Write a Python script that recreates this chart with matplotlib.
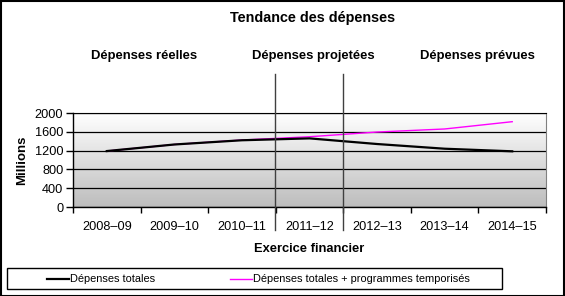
import numpy as np
import matplotlib.pyplot as plt
from matplotlib.lines import Line2D
from matplotlib.patches import Rectangle

plt.rcParams['font.family'] = ['Liberation Sans', 'DejaVu Sans']

years = ['2008–09', '2009–10', '2010–11', '2011–12', '2012–13', '2013–14', '2014–15']
totales = [1190, 1330, 1420, 1460, 1340, 1240, 1185]
temporises = [1190, 1330, 1425, 1495, 1595, 1660, 1815]
sections = ['Dépenses réelles', 'Dépenses projetées', 'Dépenses prévues']
yticks = [0, 400, 800, 1200, 1600, 2000]

W, H = 565, 296
fig = plt.figure(figsize=(W / 100, H / 100), dpi=100)
fig.patch.set_facecolor('white')
fig.patches.append(Rectangle((0.5 / W, 0.5 / H), 1 - 1.5 / W, 1 - 1.5 / H,
                             transform=fig.transFigure, fill=False,
                             edgecolor='black', linewidth=1.5))

# plot area in pixels: x 73..546, y 113..207 (from top)
ax = fig.add_axes([73 / W, 1 - 207 / H, (546 - 73) / W, (207 - 113) / H])
n = len(years)
ax.set_xlim(0, n)
ax.set_ylim(0, 2000)

# gradient background
grad = np.linspace(0, 1, 256).reshape(-1, 1)
ax.imshow(grad, extent=[0, n, 0, 2000], aspect='auto', origin='lower',
          cmap=plt.matplotlib.colors.LinearSegmentedColormap.from_list(
              'g', ['#bdbdbd', '#ffffff']), zorder=0)

for y in yticks:
    ax.axhline(y, color='black', linewidth=0.9, zorder=1)

x = np.arange(n) + 0.5
ax.plot(x, totales, color='black', linewidth=1.6, zorder=3)
ax.plot(x, temporises, color='#ff00ff', linewidth=1.0, zorder=2)

ax.set_xticks(np.arange(n + 1))
ax.set_xticklabels([])
ax.set_xticks(x, minor=True)
ax.set_xticklabels(years, minor=True)
ax.tick_params(axis='x', which='minor', length=0, pad=10, labelsize=9.2)
ax.tick_params(axis='x', which='major', direction='out', length=4, width=1)
ax.set_yticks(yticks)
ax.tick_params(axis='y', direction='out', length=5, width=1, labelsize=9.2, pad=2)
ax.spines['left'].set_linewidth(1)
ax.spines['bottom'].set_linewidth(1)
ax.spines['right'].set_color('#808080')
ax.spines['top'].set_color('black')

ax.set_ylabel('Millions', fontsize=9.5, fontweight='bold', labelpad=5)
ax.set_xlabel('Exercice financier', fontsize=9.3, fontweight='bold', labelpad=7)

# vertical separators between actual / projected / planned
for px in [275, 343]:
    fig.add_artist(Line2D([px / W, px / W], [1 - 74 / H, 1 - 230 / H],
                          color='#404040', linewidth=1.0))

fig.text(313 / W, 1 - 18 / H, 'Tendance des dépenses', ha='center', va='center',
         fontsize=10.4, fontweight='bold')
for cx, label in zip([144, 313, 477], sections):
    fig.text(cx / W, 1 - 56 / H, label, ha='center', va='center',
             fontsize=9.4, fontweight='bold')

# legend box
fig.patches.append(Rectangle((7 / W, 1 - 289 / H), (502 - 7) / W, (289 - 268) / H,
                             transform=fig.transFigure, fill=False,
                             edgecolor='black', linewidth=1))
ly = 1 - 278.5 / H
fig.add_artist(Line2D([47 / W, 69 / W], [ly, ly], color='black', linewidth=1.6))
fig.text(70 / W, ly, 'Dépenses totales', va='center', fontsize=7.9)
fig.add_artist(Line2D([230 / W, 252 / W], [ly, ly], color='#ff00ff', linewidth=1.0))
fig.text(253 / W, ly, 'Dépenses totales + programmes temporisés', va='center', fontsize=7.9)

fig.savefig('out.png', dpi=100)
